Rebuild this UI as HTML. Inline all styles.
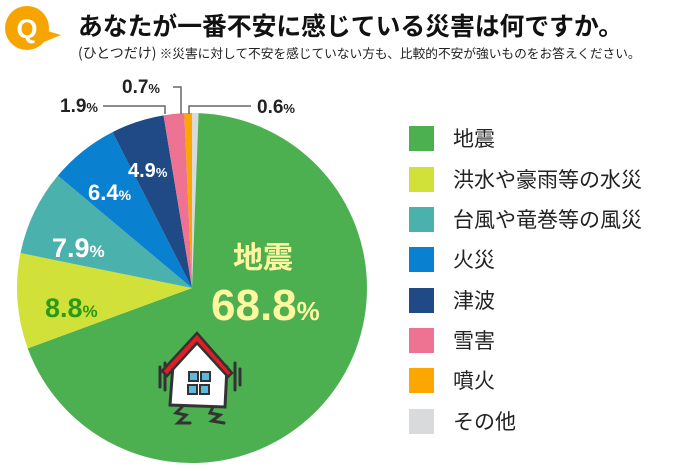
<!DOCTYPE html>
<html><head><meta charset="utf-8"><style>
body{margin:0;background:#fff;width:673px;height:466px;overflow:hidden;font-family:"Liberation Sans","Noto Sans CJK JP",sans-serif;}
</style></head><body>
<svg width="673" height="466" viewBox="0 0 673 466" xmlns="http://www.w3.org/2000/svg" font-family="Liberation Sans, Noto Sans CJK JP, sans-serif">
<circle cx="27" cy="28" r="22" fill="#f6a500"/>
<path d="M44 30 L61 35 L44 42 Z" fill="#f6a500"/>
<text x="27" y="38" text-anchor="middle" font-size="27" font-weight="bold" fill="#fff">Q</text>
<text x="78" y="35" font-size="24.8" font-weight="bold" fill="#111" font-family="Noto Sans CJK JP, sans-serif">あなたが一番不安に感じている災害は何ですか。</text>
<text x="78" y="58" font-size="14" fill="#222" font-family="Noto Sans CJK JP, sans-serif">(ひとつだけ) <tspan font-size="12.7">※災害に対して不安を感じていない方も、比較的不安が強いものをお答えください。</tspan></text>
<g id="pie"></g>
<g stroke="#666" stroke-width="1.5" fill="none">
<polyline points="103,106 165,106 165,114"/>
<polyline points="173,87 181,87 181,114"/>
<polyline points="189,114 189,106 251,106"/>
</g>
<g font-weight="bold" fill="#222">
<text x="60" y="112" font-size="19">1.9<tspan font-size="13">%</tspan></text>
<text x="122" y="93" font-size="19">0.7<tspan font-size="13">%</tspan></text>
<text x="257" y="113" font-size="19">0.6<tspan font-size="13">%</tspan></text>
</g>
<g font-weight="bold">
<text x="128" y="177" font-size="20" fill="#fff">4.9<tspan font-size="13">%</tspan></text>
<text x="88" y="200" font-size="22" fill="#fff">6.4<tspan font-size="14">%</tspan></text>
<text x="52" y="257" font-size="27" fill="#fff">7.9<tspan font-size="17">%</tspan></text>
<text x="45" y="317" font-size="27" fill="#2b9a16">8.8<tspan font-size="17">%</tspan></text>
<text x="233" y="268" font-size="30" fill="#fff6a0" font-family="Noto Sans CJK JP, sans-serif">地震</text>
<text x="211" y="320" font-size="44" fill="#fff6a0">68.8<tspan font-size="26">%</tspan></text>
</g>
<g transform="translate(200,385)">
<g stroke="#333" stroke-width="3" fill="none" stroke-linecap="round">
<line x1="-40" y1="-18" x2="-40" y2="2"/><line x1="-35" y1="-22" x2="-35" y2="5"/>
<line x1="35" y1="-22" x2="35" y2="5"/><line x1="40" y1="-16" x2="40" y2="0"/>
<polyline points="-18,22 -24,28 -14,30 -22,38 -10,38"/>
<polyline points="14,20 10,28 20,30 12,36 24,38"/>
</g>
<path d="M-27,-20 L-3,-42 L27,-18 L25,22 L-30,20 Z" fill="#fff" stroke="#333" stroke-width="3"/>
<path d="M-38,-14 L-3,-52 L32,-12 L28,-8 L-3,-42 L-33,-9 Z" fill="#e21e25" stroke="#333" stroke-width="2.5"/>
<g fill="#5fb6de" stroke="#333" stroke-width="2">
<rect x="-11" y="-13" width="9" height="9"/><rect x="1" y="-13" width="9" height="9"/>
<rect x="-12" y="0" width="9" height="9"/><rect x="0" y="0" width="9" height="9"/>
</g>
</g>
<g font-size="21" fill="#222" font-family="Noto Sans CJK JP, sans-serif">
<rect x="409" y="126" width="25" height="25" fill="#4caf50"/><text x="453" y="146">地震</text>
<rect x="409" y="167" width="25" height="25" fill="#d2e03a"/><text x="453" y="187">洪水や豪雨等の水災</text>
<rect x="409" y="207" width="25" height="25" fill="#4bb1ad"/><text x="453" y="227">台風や竜巻等の風災</text>
<rect x="409" y="247" width="25" height="25" fill="#0a80d0"/><text x="453" y="267">火災</text>
<rect x="409" y="288" width="25" height="25" fill="#1f4a85"/><text x="453" y="308">津波</text>
<rect x="409" y="328" width="25" height="25" fill="#ee7393"/><text x="453" y="348">雪害</text>
<rect x="409" y="368" width="25" height="25" fill="#fca600"/><text x="453" y="388">噴火</text>
<rect x="409" y="409" width="25" height="25" fill="#d9dadb"/><text x="453" y="429">その他</text>
</g>
</svg>
<script>
(function(){
var d=[[0.6,"#d9dadb"],[68.8,"#4caf50"],[8.8,"#d2e03a"],[7.9,"#4bb1ad"],[6.4,"#0a80d0"],[4.9,"#1f4a85"],[1.9,"#ee7393"],[0.7,"#fca600"]];
var cx=192,cy=288,r=175,a=0,g=document.getElementById("pie"),s="";
var tot=0;d.forEach(function(x){tot+=x[0];});
d.forEach(function(x){
 var a0=a/tot*2*Math.PI;a+=x[0];var a1=a/tot*2*Math.PI;
 var x0=cx+r*Math.sin(a0),y0=cy-r*Math.cos(a0),x1=cx+r*Math.sin(a1),y1=cy-r*Math.cos(a1);
 var lg=(a1-a0)>Math.PI?1:0;
 s+='<path d="M'+cx+','+cy+' L'+x0+','+y0+' A'+r+','+r+' 0 '+lg+' 1 '+x1+','+y1+' Z" fill="'+x[1]+'"/>';
});
g.innerHTML=s;
})();
</script>
</body></html>
